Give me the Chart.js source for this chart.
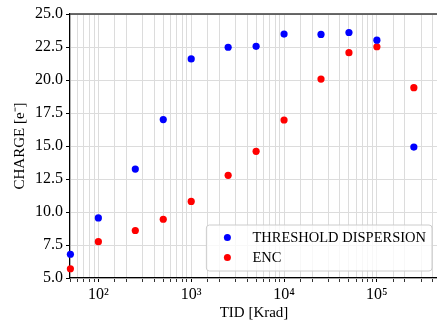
<!DOCTYPE html>
<html>
<head>
<meta charset="utf-8">
<script src="https://cdn.jsdelivr.net/npm/chart.js@4/dist/chart.umd.min.js"></script>
<style>
  html, body { margin: 0; padding: 0; background: #fff; overflow: hidden; }
  #wrap { width: 437px; height: 324px; position: relative; overflow: hidden; }
</style>
</head>
<body>
<div id="wrap"><canvas id="c" width="442" height="324"></canvas></div>
<script>
const tid = [50, 100, 250, 500, 1000, 2500, 5000, 10000, 25000, 50000, 100000, 250000];
const thresholdDispersion = [6.8, 9.55, 13.25, 17.0, 21.6, 22.48, 22.55, 23.48, 23.45, 23.6, 23.02, 14.92];
const enc = [5.7, 7.75, 8.6, 9.45, 10.8, 12.78, 14.6, 16.97, 20.07, 22.07, 22.52, 19.42];
const seriesLabels = ['THRESHOLD DISPERSION', 'ENC'];
const yTicks = [5, 7.5, 10, 12.5, 15, 17.5, 20, 22.5, 25];
const xLabels = { 100: '10\u00B2', 1000: '10\u00B3', 10000: '10\u2074', 100000: '10\u2075' };

const SERIF = "'Liberation Serif', 'Times New Roman', serif";

function pts(xs, ys) { return xs.map((x, i) => ({ x: x, y: ys[i] })); }

const framePlugin = {
  id: 'frame',
  afterDraw(chart) {
    const { ctx, chartArea: a } = chart;
    ctx.save();
    ctx.strokeStyle = '#3a3a3a';
    ctx.lineWidth = 1.5;
    ctx.beginPath();
    ctx.moveTo(a.left, a.top);
    ctx.lineTo(a.right + 10, a.top);
    ctx.stroke();
    ctx.restore();
  }
};

const legendPlugin = {
  id: 'boxLegend',
  afterDraw(chart) {
    const { ctx, chartArea: a } = chart;
    const ds = chart.data.datasets;
    ctx.save();
    ctx.font = "14.5px " + SERIF;
    let tw = 0;
    ds.forEach(d => { tw = Math.max(tw, ctx.measureText(d.label).width); });
    const w = 46 + tw + 6;
    const h = 46;
    const right = 432;
    const bottom = a.bottom - 7;
    const x0 = right - w, y0 = bottom - h;
    const r = 3;
    ctx.beginPath();
    ctx.moveTo(x0 + r, y0);
    ctx.lineTo(x0 + w - r, y0);
    ctx.arcTo(x0 + w, y0, x0 + w, y0 + r, r);
    ctx.lineTo(x0 + w, y0 + h - r);
    ctx.arcTo(x0 + w, y0 + h, x0 + w - r, y0 + h, r);
    ctx.lineTo(x0 + r, y0 + h);
    ctx.arcTo(x0, y0 + h, x0, y0 + h - r, r);
    ctx.lineTo(x0, y0 + r);
    ctx.arcTo(x0, y0, x0 + r, y0, r);
    ctx.closePath();
    ctx.fillStyle = 'rgba(255,255,255,0.8)';
    ctx.fill();
    ctx.strokeStyle = '#cccccc';
    ctx.lineWidth = 1;
    ctx.stroke();
    ds.forEach((d, i) => {
      const cy = y0 + 12.5 + i * 20;
      ctx.beginPath();
      ctx.arc(x0 + 21, cy, 3.5, 0, Math.PI * 2);
      ctx.fillStyle = d.backgroundColor;
      ctx.fill();
      ctx.fillStyle = '#000';
      ctx.textBaseline = 'middle';
      ctx.textAlign = 'left';
      ctx.fillText(d.label, x0 + 46, cy + 1);
    });
    ctx.restore();
  }
};

new Chart(document.getElementById('c'), {
  type: 'scatter',
  data: {
    datasets: [
      { label: seriesLabels[0], data: pts(tid, thresholdDispersion), backgroundColor: '#0000ff', borderColor: '#0000ff', pointRadius: 3.6, borderWidth: 0, clip: false },
      { label: seriesLabels[1], data: pts(tid, enc), backgroundColor: '#ff0000', borderColor: '#ff0000', pointRadius: 3.6, borderWidth: 0, clip: false }
    ]
  },
  options: {
    responsive: false,
    animation: false,
    layout: { padding: { top: 14, right: 0, left: 0, bottom: 0 } },
    plugins: { legend: { display: false }, tooltip: { enabled: false } },
    scales: {
      x: {
        type: 'logarithmic',
        min: 49.5,
        max: 455000,
        afterFit(s) { s.height = 46; },
        border: { color: '#000', width: 1.2 },
        grid: {
          color: '#dcdcdc', lineWidth: 1,
          drawTicks: true, tickLength: 4, tickColor: '#000',
          tickWidth: (c) => (c.tick && xLabels[Math.round(c.tick.value)] ? 1 : 0.8)
        },
        ticks: {
          autoSkip: false, maxRotation: 0, padding: 3,
          font: { family: SERIF, size: 16 }, color: '#000',
          callback(v) { return xLabels[Math.round(v)] && Math.abs(Math.round(v) - v) < 1e-6 ? xLabels[Math.round(v)] : ''; }
        },
        title: { display: true, text: 'TID [Krad]', font: { family: SERIF, size: 15 }, color: '#000', padding: { top: 0, bottom: 2 } }
      },
      y: {
        min: 5, max: 25,
        afterFit(s) { s.width = 70; },
        afterBuildTicks(s) { s.ticks = yTicks.map(v => ({ value: v })); },
        border: { color: '#000', width: 1.2 },
        grid: { color: '#dcdcdc', lineWidth: 1, drawTicks: true, tickLength: 4, tickColor: '#000' },
        ticks: {
          padding: 3, font: { family: SERIF, size: 16 }, color: '#000',
          callback(v) { return Number(v).toFixed(1); }
        },
        title: { display: true, text: 'CHARGE [e\u207B]', font: { family: SERIF, size: 15 }, color: '#000', padding: { top: 11, bottom: 0 } }
      }
    }
  },
  plugins: [framePlugin, legendPlugin]
});
</script>
</body>
</html>
